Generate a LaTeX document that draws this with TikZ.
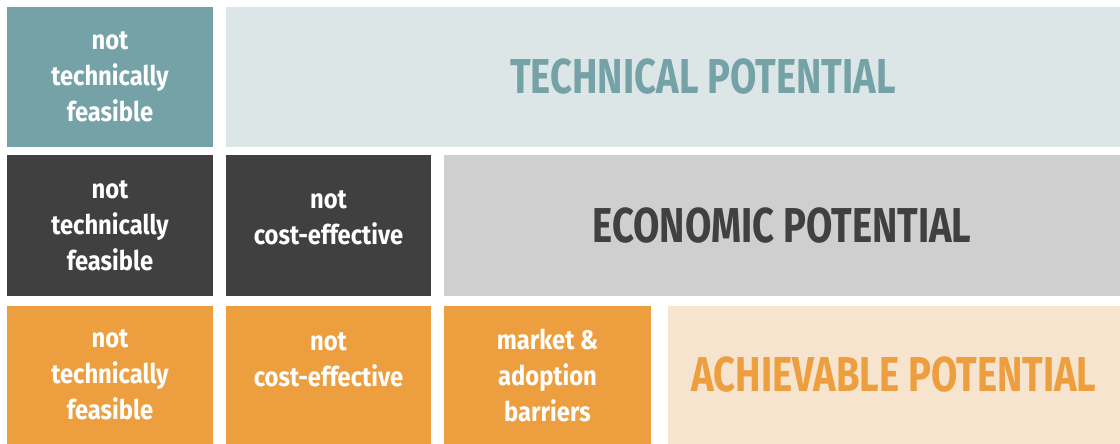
\documentclass[tikz,border=0pt]{standalone}
\usepackage{fontspec}
\setmainfont[FakeStretch=0.78]{Fira Sans}
\newfontfamily\cellfont[FakeStretch=0.88]{Fira Sans}
\usetikzlibrary{positioning}

\definecolor{tealdark}{HTML}{74A2A7}
\definecolor{teallight}{HTML}{DDE6E7}
\definecolor{greydark}{HTML}{404040}
\definecolor{greylight}{HTML}{CFCFCF}
\definecolor{orangedark}{HTML}{ED9F3F}
\definecolor{orangelight}{HTML}{F7E4CE}

\tikzstyle{cell} = [rectangle, inner sep=0pt, outer sep=0pt, minimum height=140pt,
  align=center, text=white, font=\cellfont\bfseries\fontsize{27}{36}\selectfont]
\tikzstyle{band} = [rectangle, inner sep=0pt, outer sep=0pt, minimum height=140pt,
  font=\bfseries\fontsize{49}{54}\selectfont]

\begin{document}
\begin{tikzpicture}[x=1pt, y=-1pt]
    \useasboundingbox (0,0) rectangle (1120,444);

    % top row
    \node[cell, fill=tealdark, minimum width=206pt, anchor=north west] (tnf1) at (7,7)
        {not\\technically\\feasible};
    \node[band, fill=teallight, minimum width=894pt, right=13pt of tnf1] (tech) {};
    \node[text=tealdark, font=\bfseries\fontsize{49}{54}\selectfont] (techtxt)
        at ([xshift=30pt]tech.center) {TECHNICAL POTENTIAL};

    % middle row
    \node[cell, fill=greydark, minimum width=206pt, minimum height=141pt, below=8pt of tnf1] (tnf2)
        {not\\technically\\feasible};
    \node[cell, fill=greydark, minimum width=205pt, minimum height=141pt, right=13pt of tnf2] (nce2)
        {not\\cost-effective\\[-20pt]\mbox{}};
    \node[band, fill=greylight, text=greydark, minimum width=676pt, minimum height=141pt,
        right=13pt of nce2] (econ) {ECONOMIC POTENTIAL};

    % bottom row
    \node[cell, fill=orangedark, minimum width=206pt, minimum height=138pt, below=10pt of tnf2] (tnf3)
        {not\\technically\\feasible};
    \node[cell, fill=orangedark, minimum width=205pt, minimum height=138pt, right=13pt of tnf3] (nce3)
        {not\\cost-effective\\[-6pt]\mbox{}};
    \node[cell, fill=orangedark, minimum width=207pt, minimum height=138pt, right=13pt of nce3] (mab)
        {market \&\\adoption\\barriers};
    \node[band, fill=orangelight, text=orangedark, minimum width=452pt, minimum height=138pt,
        right=17pt of mab] (achv) {ACHIEVABLE POTENTIAL};

\end{tikzpicture}
\end{document}
